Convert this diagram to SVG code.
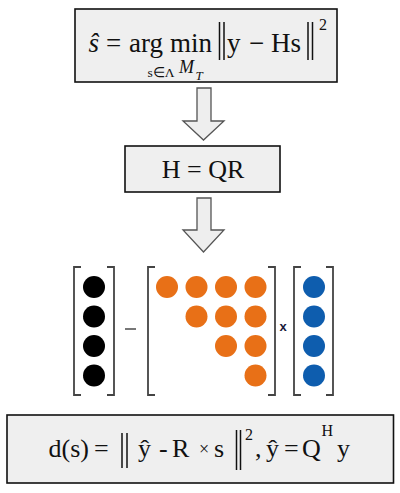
<svg xmlns="http://www.w3.org/2000/svg" width="400" height="493" viewBox="0 0 400 493">
<style>
.box{fill:#efefef;stroke:#111;stroke-width:1.6}
.arrow{fill:#eeeeee;stroke:#555;stroke-width:1.3}
.f{font-family:"Liberation Serif","Times New Roman",serif;fill:#111}
.norm{stroke:#111;stroke-width:1.5}
.br{fill:none;stroke:#444;stroke-width:1.8}
.k{fill:#000}
.o{fill:#e87017}
.b{fill:#0e5dae}
</style>
<rect width="400" height="493" fill="#fff"/>
<g id="argmin">
<rect class="box" x="75" y="9" width="262" height="73"/>
<text class="f" font-size="27" y="52"><tspan x="88.5" font-style="italic">ŝ</tspan><tspan x="106">=</tspan><tspan x="129">arg</tspan><tspan x="170">min</tspan><tspan x="227">y</tspan><tspan x="249">−</tspan><tspan x="271">Hs</tspan></text>
<line class="norm" x1="219.5" y1="22" x2="219.5" y2="60"/>
<line class="norm" x1="224" y1="22" x2="224" y2="60"/>
<line class="norm" x1="308" y1="22" x2="308" y2="60"/>
<line class="norm" x1="312.5" y1="22" x2="312.5" y2="60"/>
<text class="f" font-size="16" x="319" y="30">2</text>
<text class="f" font-size="13.5" x="147.5" y="77">s∈Λ</text>
<text class="f" font-size="18" x="179" y="73" font-style="italic">M</text>
<text class="f" font-size="13" x="195.5" y="80" font-style="italic">T</text>
</g>
<g id="connectors">
<polygon class="arrow" points="197,88 211,88 211,121 224,121 203.5,140 183,121 197,121"/>
<polygon class="arrow" points="197,198 211,198 211,230 224,230 203.5,252 183,230 197,230"/>
</g>
<g id="qr">
<rect class="box" x="125" y="146" width="155" height="46"/>
<text class="f" font-size="26" x="203" y="178" text-anchor="middle">H = QR</text>
</g>
<g id="matrices">
<path class="br" d="M81,267 H74 V395 H81 M107,267 H114 V395 H107"/>
<circle class="k" cx="94" cy="287" r="11"/>
<circle class="k" cx="94" cy="316.5" r="11"/>
<circle class="k" cx="94" cy="346" r="11"/>
<circle class="k" cx="94" cy="375.5" r="11"/>
<line x1="125" y1="329" x2="136" y2="329" stroke="#777" stroke-width="2"/>
<path class="br" d="M155,267 H148 V395 H155 M268,267 H275 V395 H268"/>
<circle class="o" cx="167" cy="287" r="11"/>
<circle class="o" cx="196.5" cy="287" r="11"/>
<circle class="o" cx="226" cy="287" r="11"/>
<circle class="o" cx="255.5" cy="287" r="11"/>
<circle class="o" cx="196.5" cy="316.5" r="11"/>
<circle class="o" cx="226" cy="316.5" r="11"/>
<circle class="o" cx="255.5" cy="316.5" r="11"/>
<circle class="o" cx="226" cy="346" r="11"/>
<circle class="o" cx="255.5" cy="346" r="11"/>
<circle class="o" cx="255.5" cy="375.5" r="11"/>
<text x="283" y="331" font-family="Liberation Sans, Arial, sans-serif" font-weight="bold" font-size="13" text-anchor="middle" fill="#1a1a3a">x</text>
<path class="br" d="M301,267 H294 V395 H301 M326,267 H333 V395 H326"/>
<circle class="b" cx="314" cy="287" r="11"/>
<circle class="b" cx="314" cy="316.5" r="11"/>
<circle class="b" cx="314" cy="346" r="11"/>
<circle class="b" cx="314" cy="375.5" r="11"/>
</g>
<g id="metric">
<rect class="box" x="7" y="415" width="386.5" height="68"/>
<text class="f" font-size="26" y="457"><tspan x="48.5">d(s)</tspan><tspan x="94">=</tspan><tspan x="138">ŷ</tspan><tspan x="159">-</tspan><tspan x="172">R</tspan><tspan x="214">s</tspan><tspan x="255">,</tspan><tspan x="266">ŷ</tspan><tspan x="284">=</tspan><tspan x="302">Q</tspan><tspan x="337">y</tspan></text>
<text class="f" font-size="18" x="199" y="455">×</text>
<text class="f" font-size="16" x="245" y="440">2</text>
<text class="f" font-size="16" x="321.5" y="436">H</text>
<line class="norm" x1="122" y1="433" x2="122" y2="468"/>
<line class="norm" x1="127" y1="433" x2="127" y2="468"/>
<line class="norm" x1="236.5" y1="430" x2="236.5" y2="470"/>
<line class="norm" x1="240.5" y1="430" x2="240.5" y2="470"/>
</g>
</svg>
